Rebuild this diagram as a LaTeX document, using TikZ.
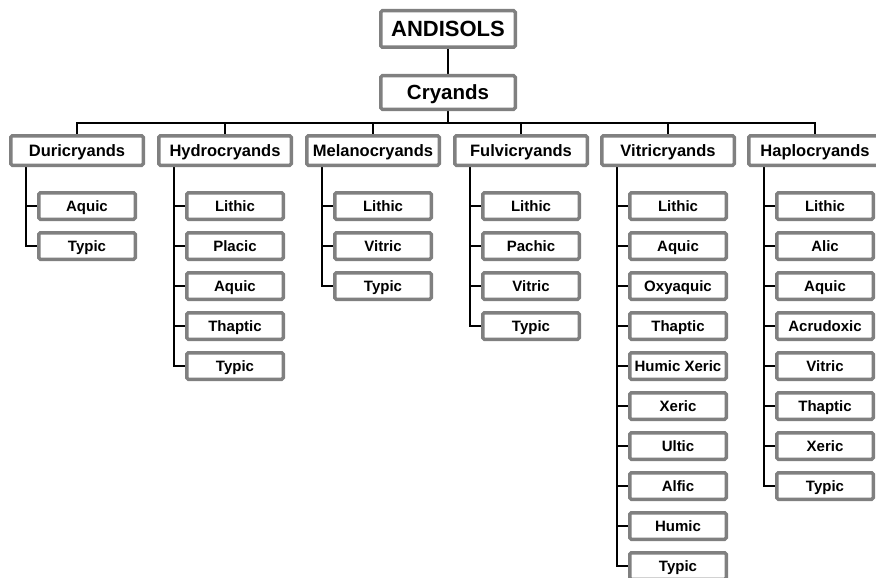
\documentclass[tikz,border=0pt]{standalone}
\usepackage{fontspec}
\setmainfont{Liberation Sans}
\pgfdeclarelayer{bg}
\pgfsetlayers{bg,main}
\begin{document}
\begin{tikzpicture}[x=1pt,y=-1pt,
  box/.style={draw=boxgrey,line width=3.5pt,fill=white,rounded corners=1.5pt,inner sep=0pt,text depth=0pt},
  topbox/.style={box,minimum width=134.5pt,font=\bfseries\fontsize{22}{24}\selectfont,text height=15.75pt},
  famb/.style={box,minimum width=132.5pt,minimum height=29.5pt,font=\bfseries\fontsize{16.5}{18}\selectfont,text height=11.8pt},
  leafb/.style={box,minimum width=96.5pt,minimum height=26.5pt,font=\bfseries\fontsize{15}{17}\selectfont,text height=10.75pt},
  conn/.style={line width=2.7pt,black}]
\definecolor{boxgrey}{RGB}{128,128,128}
\useasboundingbox (0,0) rectangle (876,578);
\node[topbox,minimum height=36.5pt] (ando) at (448,29) {ANDISOLS};
\node[topbox,minimum height=33.5pt,font=\bfseries\fontsize{20.5}{22}\selectfont,text height=14.7pt] (cry) at (448,92.5) {Cryands};
\coordinate (bus) at (448,123);
\def\famy{150.5}
\foreach \i/\L/\name in {1/9/Duricryands,2/157/Hydrocryands,3/305/Melanocryands,4/453/Fulvicryands,5/600/Vitricryands,6/747/Haplocryands}{
  \node[famb] (f\i) at ({\L+68},\famy) {\name};
  \coordinate (t\i) at ({\L+17},167);
}
% leaves
\foreach \i/\L/\list in {
  1/9/{Aquic,Typic},
  2/157/{Lithic,Placic,Aquic,Thaptic,Typic},
  3/305/{Lithic,Vitric,Typic},
  4/453/{Lithic,Pachic,Vitric,Typic},
  5/600/{Lithic,Aquic,Oxyaquic,Thaptic,Humic Xeric,Xeric,Ultic,Alfic,Humic,Typic},
  6/747/{Lithic,Alic,Aquic,Acrudoxic,Vitric,Thaptic,Xeric,Typic}}{
  \foreach \lf [count=\k from 0] in \list {
    \node[leafb] (l\i-\k) at ({\L+78},{206+40*\k}) {\lf};
    \begin{pgfonlayer}{bg}
      \draw[conn] (t\i) |- (l\i-\k.west);
    \end{pgfonlayer}
  }
}
\begin{pgfonlayer}{bg}
  \draw[conn] (ando.south) -- (cry.north);
  \draw[conn] (cry.south) -- (bus);
  \foreach \i in {1,...,6}{
    \draw[conn] (f\i.north) |- (bus);
  }
\end{pgfonlayer}
\end{tikzpicture}
\end{document}
